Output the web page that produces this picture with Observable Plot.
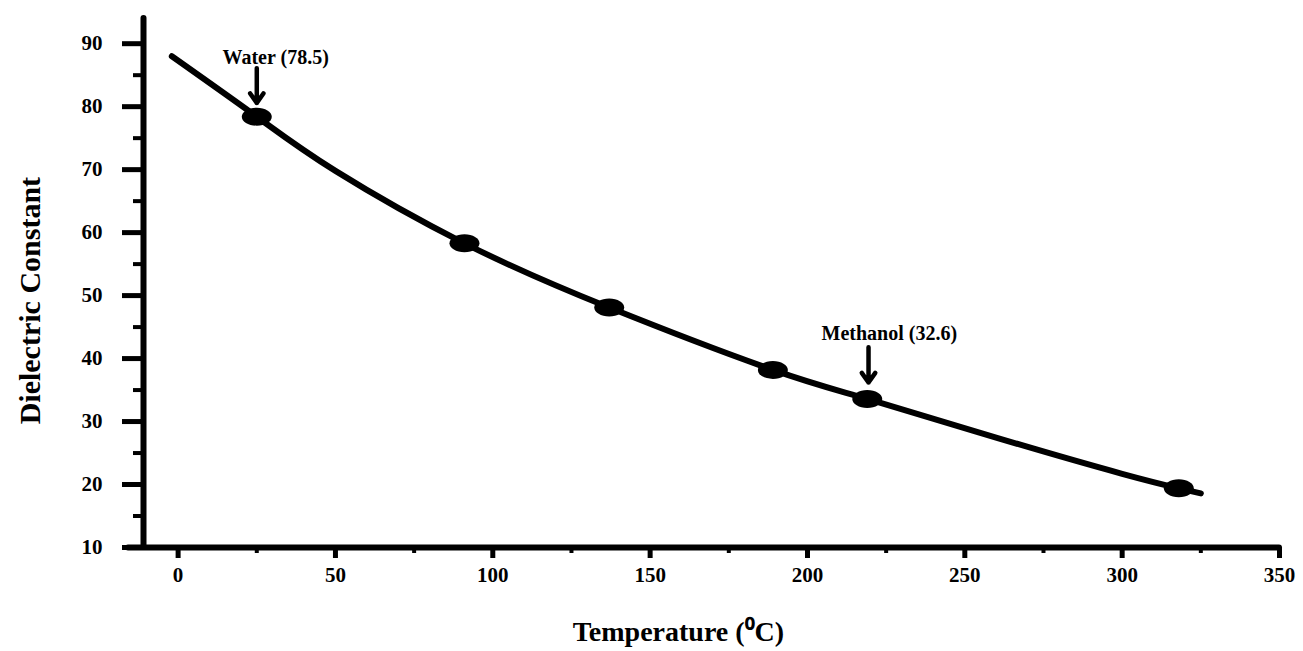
<!DOCTYPE html>
<html><head><meta charset="utf-8">
<script src="https://cdn.jsdelivr.net/npm/d3@7"></script>
<script src="https://cdn.jsdelivr.net/npm/@observablehq/plot@0.6"></script>
<style>
body{margin:0;background:#fff;}
g[aria-label="ytitle"] text{letter-spacing:1.6px;}
g[aria-label="notes"] text{letter-spacing:0.8px;}
</style>
</head><body><div id="chart"></div>
<script>
// Curve samples (temperature °C, dielectric constant)
const curveT = [-2, 25, 50, 91, 137, 189, 219, 261, 300, 318, 325];
const curveE = [88, 78.4, 69.8, 58.3, 48.1, 38.2, 33.6, 27.3, 21.7, 19.4, 18.6];
// Marked points
const pointT = [25, 91, 137, 189, 219, 318];
const pointE = [78.4, 58.3, 48.1, 38.2, 33.6, 19.4];
// Annotations
const noteText = ["Water (78.5)", "Methanol (32.6)"];
const noteX = [31, 226];
const noteY = [87.8, 44];
const arrowX = [25, 219.4];
const arrowTop = [86.1, 41.8];
const arrowBottom = [80.6, 36.2];
const xTicks = [0, 50, 100, 150, 200, 250, 300, 350];
const xMinor = [25, 75, 125, 175, 225, 275, 325];
const yTicks = [10, 20, 30, 40, 50, 60, 70, 80, 90];
const yMinor = [15, 25, 35, 45, 55, 65, 75, 85];
const xTitle = "Temperature (\u2070C)";
const yTitle = "Dielectric Constant";

const curve = curveT.map((t, i) => ({t, e: curveE[i]}));
const points = pointT.map((t, i) => ({t, e: pointE[i]}));
const notes = noteText.map((s, i) => ({s, x: noteX[i], y: noteY[i], ax: arrowX[i], y1: arrowTop[i], y2: arrowBottom[i]}));

// ellipse symbol
const ellipse = {
  draw(ctx) {
    const rx = 15, ry = 9, k = 0.5523;
    ctx.moveTo(rx, 0);
    ctx.bezierCurveTo(rx, ry * k, rx * k, ry, 0, ry);
    ctx.bezierCurveTo(-rx * k, ry, -rx, ry * k, -rx, 0);
    ctx.bezierCurveTo(-rx, -ry * k, -rx * k, -ry, 0, -ry);
    ctx.bezierCurveTo(rx * k, -ry, rx, -ry * k, rx, 0);
    ctx.closePath();
  }
};

const X0 = -11, Y0 = 10;
const pxX = 3.147, pxY = 6.298; // px per data unit (for tick lengths)
const font = "Liberation Serif, Times New Roman, serif";
const chart = Plot.plot({
  width: 1303, height: 651,
  marginLeft: 143, marginRight: 24, marginTop: 18, marginBottom: 104,
  x: {domain: [X0, 350]},
  y: {domain: [Y0, 94]},
  style: {fontFamily: font, fontWeight: "bold", fontSize: "21px", color: "#000", background: "#fff"},
  marks: [
    Plot.axisX({ticks: xTicks, tickSize: 0, tickPadding: 20, fontSize: 21, fontWeight: "bold", label: null}),
    Plot.axisY({ticks: yTicks, tickSize: 0, tickPadding: 41, fontSize: 21, fontWeight: "bold", label: null}),
    // tick marks
    Plot.ruleX(xTicks, {x: d => d, y1: Y0, y2: Y0 - 11 / pxY, strokeWidth: 5, clip: false}),
    Plot.ruleX(xMinor, {x: d => d, y1: Y0, y2: Y0 - 6 / pxY, strokeWidth: 4, clip: false}),
    Plot.ruleY(yTicks, {y: d => d, x1: X0, x2: X0 - 21 / pxX, strokeWidth: 5, clip: false}),
    Plot.ruleY(yMinor, {y: d => d, x1: X0, x2: X0 - 10 / pxX, strokeWidth: 4, clip: false}),
    // axis lines
    Plot.ruleY([Y0], {x1: X0 - 15 / pxX, x2: 350, strokeWidth: 6, strokeLinecap: "round", clip: false}),
    Plot.ruleX([X0], {y1: Y0, y2: 94, strokeWidth: 6, strokeLinecap: "round"}),
    Plot.line(curve, {x: "t", y: "e", curve: "natural", stroke: "#000", strokeWidth: 6, strokeLinecap: "round"}),
    Plot.dot(points, {x: "t", y: "e", symbol: ellipse, fill: "#000", stroke: "none"}),
    Plot.arrow(notes, {x1: "ax", x2: "ax", y1: "y1", y2: "y2", stroke: "#000", strokeWidth: 4.5, headLength: 13, headAngle: 70}),
    Plot.text(notes, {x: "x", y: "y", text: "s", fontSize: 20, fontWeight: "bold", fill: "#000", ariaLabel: "notes"}),
    Plot.text([yTitle], {x: X0 - 113 / pxX, y: 49.2, rotate: -90, fontSize: 30, fontWeight: "bold", fill: "#000", ariaLabel: "ytitle"}),
    Plot.text([xTitle], {x: 159, y: Y0 - 85 / pxY, fontSize: 28, fontWeight: "bold", fill: "#000"})
  ]
});
document.getElementById("chart").appendChild(chart);
</script>
</body></html>
